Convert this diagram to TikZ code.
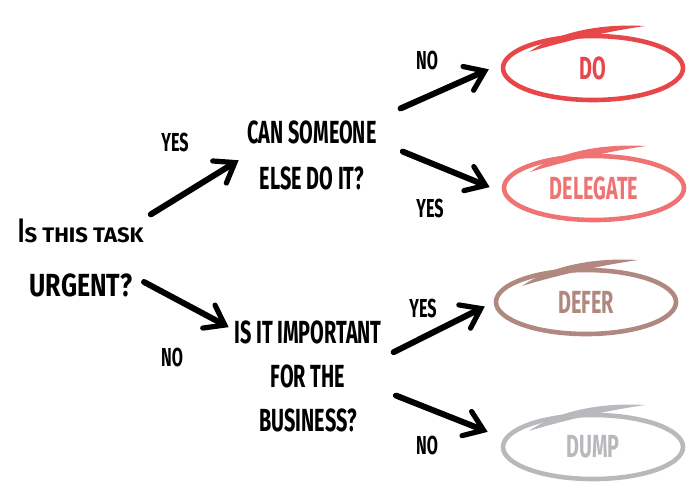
\documentclass[tikz,border=0pt]{standalone}
\usepackage{fontspec}
\setmainfont{Fira Sans}
\newfontfamily\condfont{Fira Sans}[FakeStretch=0.62]
\newfontfamily\midfont{Fira Sans}[FakeStretch=0.78]
\newfontfamily\scfont{Fira Sans}[FakeStretch=1.05]
\usetikzlibrary{arrows.meta, calc, shapes.geometric}

\definecolor{doRed}{HTML}{E8474A}
\definecolor{delegatePink}{HTML}{F07373}
\definecolor{deferBrown}{HTML}{B08880}
\definecolor{dumpGrey}{HTML}{B9B9BD}

\begin{document}
\begin{tikzpicture}[x=0.5pt, y=-0.5pt,
  question/.style = {font=\condfont\bfseries\fontsize{16}{23}\selectfont, align=center, inner sep=0pt},
  answer/.style = {font=\condfont\bfseries\fontsize{13}{15}\selectfont, inner sep=0pt},
  choice/.style = {draw, ellipse, line width=2.3pt, minimum width=90pt, minimum height=32pt, inner sep=0pt, font=\condfont\bfseries\fontsize{16}{18}\selectfont},
  brush/.style = {line width=3pt, line cap=round, -{Straight Barb[length=9pt, width=13pt, line width=2.6pt, line cap=round]}}]
        \useasboundingbox (0,0) rectangle (700,500);

        % questions
        \node[question, font=\midfont\bfseries\fontsize{16}{27}\selectfont] (q) at (81,258) {{\condfont\fontsize{17}{27}\selectfont I}{\scfont\fontsize{10.5}{27}\selectfont S THIS TASK}\\URGENT?};
        \node[question] (a) at (312,155) {CAN SOMEONE\\ELSE DO IT?};
        \node[question, font=\condfont\bfseries\fontsize{16}{22}\selectfont] (b) at (308,376) {IS IT IMPORTANT\\FOR THE\\BUSINESS?};

        % answers on the arrows
        \node[answer] (y1) at (175,142) {YES};
        \node[answer] (n1) at (172,357) {NO};
        \node[answer] (n2) at (427,60) {NO};
        \node[answer] (y2) at (430,208) {YES};
        \node[answer] (y3) at (423,308) {YES};
        \node[answer] (n3) at (427,445) {NO};

        % outcomes
        \node[choice, doRed] (do) at (593,68) {DO};
        \node[choice, delegatePink] (dlg) at (594,188) {DELEGATE};
        \node[choice, deferBrown] (dfr) at (586,302) {DEFER};
        \node[choice, dumpGrey] (dmp) at (593,447) {DUMP};
        \foreach \n/\c in {do/doRed, dlg/delegatePink, dfr/deferBrown, dmp/dumpGrey}
            \fill[\c] ($(\n.center)+(-64,-16)$) .. controls ($(\n.center)+(-40,-33)$) and ($(\n.center)+(0,-45)$) .. ($(\n.center)+(52,-42)$)
                .. controls ($(\n.center)+(10,-36)$) and ($(\n.center)+(-35,-25)$) .. cycle;

        \draw[brush, shorten <=4pt, shorten >=5pt] (q.north east) -- (a.west);
        \draw[brush, shorten >=3pt] ([yshift=-12pt]q.east) -- ([yshift=-5pt]b.north west);
        \draw[brush, shorten <=13pt, shorten >=6.5pt] ([yshift=18pt]a.east) -- ([yshift=2pt]do.west);
        \draw[brush, shorten <=14pt, shorten >=6.5pt] ([yshift=7pt]a.east) -- ([yshift=-2pt]dlg.west);
        \draw[brush, shorten <=6.5pt, shorten >=5pt] ([yshift=9pt]b.east) -- (dfr.west);
        \draw[brush, shorten <=7.5pt, shorten >=7pt] ([yshift=-7pt]b.east) -- ([yshift=5pt]dmp.west);
    \end{tikzpicture}
\end{document}
